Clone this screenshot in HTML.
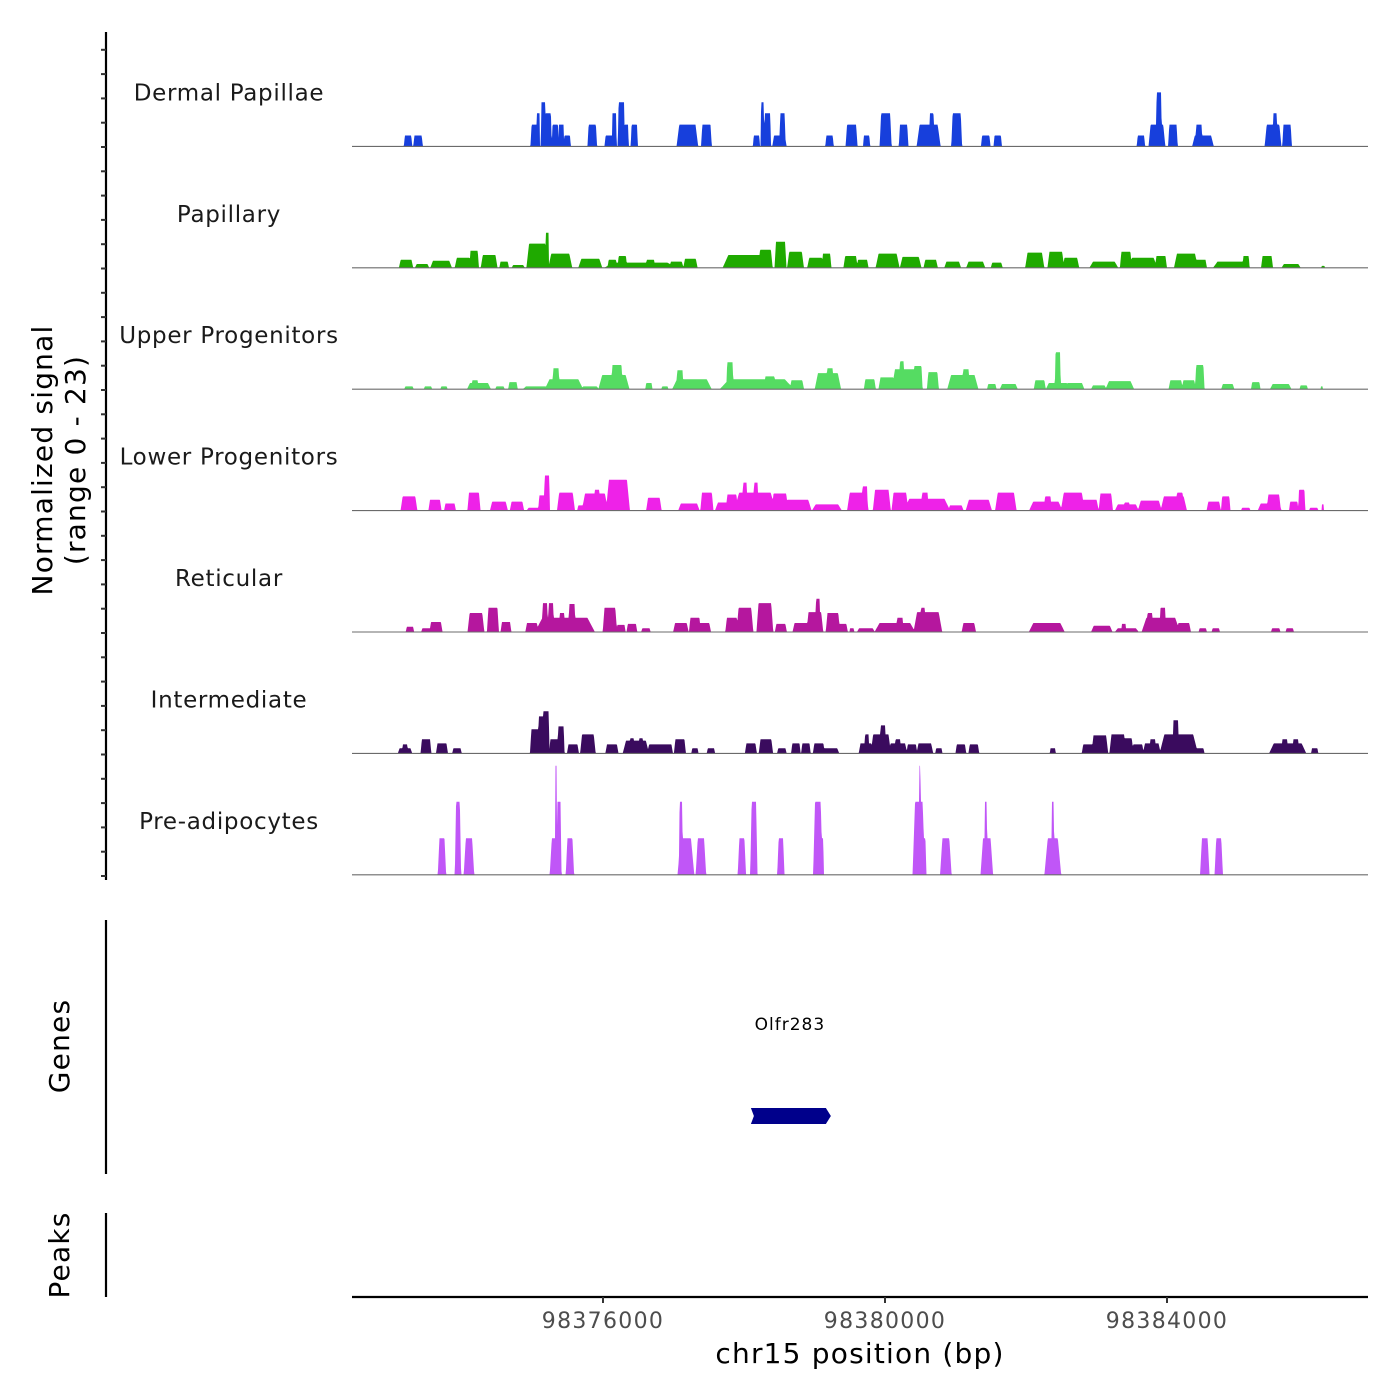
<!DOCTYPE html>
<html><head><meta charset="utf-8"><style>
html,body{margin:0;padding:0;background:#fff}
svg{display:block;font-family:"DejaVu Sans","Liberation Sans",sans-serif}
</style></head><body>
<svg id="chart" width="1400" height="1400" viewBox="0 0 1400 1400" xmlns="http://www.w3.org/2000/svg">
<g id="tracks"></g>
<g id="yaxis"></g>
<text transform="translate(52,460) rotate(-90)" text-anchor="middle" font-size="28" letter-spacing="1.2" fill="#000">Normalized signal</text>
<text transform="translate(85,460) rotate(-90)" text-anchor="middle" font-size="28" letter-spacing="1.2" fill="#000">(range 0 - 23)</text>
<g>
<line x1="106" y1="920" x2="106" y2="1174" stroke="#000" stroke-width="2.2"/>
<text transform="translate(69,1046) rotate(-90)" text-anchor="middle" font-size="28" letter-spacing="1.2" fill="#000">Genes</text>
<g id="genes"></g>
</g>
<g>
<line x1="106" y1="1213" x2="106" y2="1297" stroke="#000" stroke-width="2.2"/>
<text transform="translate(69,1255) rotate(-90)" text-anchor="middle" font-size="28" letter-spacing="1.2" fill="#000">Peaks</text>
</g>
<g id="xaxis"></g>
<text x="860" y="1363" text-anchor="middle" font-size="28" letter-spacing="1.2" fill="#000">chr15 position (bp)</text>
</svg>
<script>
const regionStart = 98372440;
const regionEnd = 98386851;
const xTicks = [98376000, 98380000, 98384000];
const trackNames = ["Dermal Papillae","Papillary","Upper Progenitors","Lower Progenitors","Reticular","Intermediate","Pre-adipocytes"];
const trackColors = ["#173fdc","#1faa00","#55dc62","#ee22e8","#b5179e","#3a0b5e","#c056f7"];
const yMax = 23;
const dpPos = [795,937,2599,2641,2712,2783,2883,2968,3053,3408,3649,3720,3820,3891,4004,4757,5027,5737,5822,5893,6063,6106,6773,7086,7299,7569,7824,8179,8222,8577,8989,9159,11190,11417,11445,11644,12070,12013,13064,13092,13263];
const dpWid = [100,114,114,43,57,85,85,71,85,114,114,57,85,57,85,256,128,85,43,85,170,71,100,142,85,142,114,284,57,128,114,100,100,199,71,114,256,85,199,57,114];
const dpVal = [2.3,2.3,4.6,7,9.3,7,4.6,4.6,2.3,4.6,2.3,7,9.3,4.6,4.6,4.6,4.6,2.3,9.3,7,2.3,7,2.3,4.6,2.3,7,4.6,4.6,7,7,2.3,2.3,2.3,4.6,11.4,4.6,2.3,4.6,4.6,7,4.6];
const paPos = [767,994,1264,1576,1732,1945,2158,2357,2627,2769,2954,3380,3692,3834,4090,4232,4601,4800,5581,5865,6078,6291,6575,6731,7072,7242,7597,7924,8208,8520,8847,9145,9684,9983,10196,10664,10977,11218,11474,11829,12042,12468,12681,12979,13320,13774];
const paWid = [170,170,256,199,114,199,114,156,256,43,284,284,114,114,852,114,170,170,540,170,142,199,199,114,170,142,284,256,170,199,227,142,227,199,199,341,142,341,142,284,142,426,85,142,227,43];
const paVal = [1.7,0.8,1.5,2.1,3.6,2.7,1.3,0.6,5.1,7.4,3.0,1.9,1.7,2.5,1.1,1.7,1.3,1.9,2.7,3.8,5.5,3.4,2.1,3.0,2.5,1.7,3.0,2.3,1.7,1.3,1.3,1.1,3.2,3.4,2.1,1.3,3.4,2.1,2.5,3.0,1.7,1.3,2.5,2.5,0.8,0.4];
const upPos = [808,1078,1305,1801,1744,2099,2283,2609,3006,2893,3375,3715,3758,4211,4438,4821,4651,5743,5360,5927,6310,6750,6778,7345,7586,7842,7799,8026,8239,8664,8707,9075,9316,9756,10011,10011,10252,10592,10890,11684,11869,12025,12422,12819,13173,13499,13755];
const upWid = [113,99,85,284,85,113,113,312,454,85,213,369,142,85,85,468,85,879,85,142,170,312,85,142,199,312,57,113,142,369,85,113,213,142,284,71,227,184,340,170,170,113,156,113,255,99,28];
const upVal = [0.6,0.6,0.6,1.3,1.9,0.6,1.5,0.6,2.1,4.4,0.6,3.0,5.1,1.3,0.6,2.1,4.0,2.1,5.7,2.7,1.9,3.4,4.4,2.1,2.5,4.2,5.9,4.9,3.6,3.0,4.2,1.1,1.1,1.9,1.3,7.8,1.3,0.8,1.7,1.9,1.9,5.1,1.1,1.5,1.1,0.8,0.6];
const loPos = [808,1177,1390,1730,2084,2340,2595,2708,2765,3035,3261,3446,3474,3772,4282,4779,5034,5318,5388,5715,5573,5729,6069,6324,6736,7175,7274,7515,7771,8154,8125,8565,8891,9274,9841,9869,10224,10465,10692,10990,10990,11316,11656,11741,12223,12393,12677,13017,13074,13358,13471,13641,13769];
const loWid = [199,156,142,156,213,170,199,113,71,213,113,312,71,284,184,255,156,284,142,496,57,57,199,326,355,255,71,213,199,553,85,184,312,255,397,85,284,213,170,284,71,284,312,85,170,113,113,284,170,113,85,113,28];
const loVal = [3.0,2.3,1.5,3.8,1.9,1.9,0.6,3.2,7.4,3.8,1.1,3.6,4.4,6.5,2.7,1.5,3.8,1.7,3.4,3.8,5.9,5.9,3.6,2.3,1.3,3.8,5.1,4.4,3.8,2.5,3.8,1.1,2.3,3.8,1.9,3.0,3.8,2.3,3.6,1.3,1.7,2.1,3.0,3.8,1.9,3.0,0.6,1.5,3.4,1.9,4.4,0.6,1.3];
const rePos = [822,1049,1191,1758,1999,2184,2552,3020,2737,2822,2978,3120,3261,3658,3814,3970,4169,4665,4864,4991,5388,5573,5856,6083,6367,6565,6608,6821,6948,7090,7289,7700,7771,8168,8097,8749,9855,10635,10990,10947,11472,11316,11500,11798,12067,12252,13102,13301];
const reWid = [99,113,156,199,142,128,156,709,71,71,71,85,85,170,113,128,113,184,142,170,156,199,199,142,199,199,57,170,142,57,213,482,85,340,57,170,425,255,284,57,454,71,71,170,99,99,113,99];
const reVal = [1.1,0.8,2.1,4.0,5.1,2.1,1.9,3.0,6.1,6.1,4.0,5.9,2.5,5.1,1.5,1.7,0.8,1.9,3.0,1.9,3.0,5.1,6.1,1.7,1.9,4.2,7.0,4.0,1.7,0.8,0.8,1.9,3.0,4.2,5.1,1.9,1.9,1.3,0.8,1.7,3.0,4.0,5.1,1.9,0.8,0.8,0.8,0.8];
const inPos = [752,752,1049,1276,1489,2609,2680,2751,2864,2964,3134,3346,3687,4027,3970,4098,4311,4467,4651,4864,5091,5658,5871,6097,6296,6438,6622,6792,7289,7303,7501,7530,7742,7742,7941,8125,8324,8636,8820,9940,10436,10607,10862,10990,11145,11344,11358,11727,11684,12025,13272,13230,13386,13655];
const inWid = [170,71,128,142,113,142,71,85,113,85,142,184,156,312,57,57,213,142,142,85,99,142,170,113,113,113,142,199,170,57,241,71,227,71,128,199,85,128,128,71,142,199,199,156,142,213,71,454,71,113,440,71,71,85];
const inVal = [1.1,1.9,3.0,2.1,1.1,5.1,7.8,8.9,3.0,5.7,1.9,4.0,1.9,2.7,3.2,3.2,1.9,1.9,3.0,1.1,1.1,2.1,3.0,1.1,2.1,2.1,2.1,1.1,2.1,4.0,4.0,5.9,2.1,3.0,1.9,2.1,1.1,1.9,1.9,1.1,1.9,3.8,4.0,3.2,1.9,2.1,3.0,4.0,7.0,1.1,2.1,3.0,3.0,1.1];
const prPos = [1276,1503,1659,2879,2935,2893,3091,4736,4665,4949,5530,5700,6083,6608,6665,8040,8054,8111,8423,9004,8990,9940,9940,12096,12294];
const prWid = [113,85,142,142,71,28,113,227,57,142,113,99,99,128,57,170,28,71,156,170,43,227,43,128,113];
const prVal = [7.7,15.4,7.7,7.7,15.4,23,7.7,7.7,15.4,7.7,7.7,15.4,7.7,15.4,7.7,15.4,23,7.7,7.7,7.7,15.4,7.7,15.4,7.7,7.7];
const geneName = "Olfr283";
const geneStart = 98378098;
const geneEnd = 98379204;

const trackPos = [dpPos,paPos,upPos,loPos,rePos,inPos,prPos];
const trackWid = [dpWid,paWid,upWid,loWid,reWid,inWid,prWid];
const trackVal = [dpVal,paVal,upVal,loVal,reVal,inVal,prVal];

const NS = "http://www.w3.org/2000/svg";
const X0 = 352, X1 = 1368;
function xScale(bp){ return X0 + (bp - regionStart) / (regionEnd - regionStart) * (X1 - X0); }
const trackTop = 32, trackH = 121.4;
function baseY(i){ return trackTop + (i+1)*trackH - 7; }
function yScale(i, v){ return baseY(i) - v / yMax * 109; }
function el(tag, attrs, parent){ const e = document.createElementNS(NS, tag); for (const k in attrs) e.setAttribute(k, attrs[k]); parent.appendChild(e); return e; }

const tracksG = document.getElementById('tracks');
for (let i = 0; i < 7; i++) {
  const pos = trackPos[i], wid = trackWid[i], val = trackVal[i];
  const b = baseY(i);
  const widen = i === 6 ? 1.05 : 1.2;
  let d = "M" + X0 + "," + b;
  for (let x = X0; x <= X1; x += 0.5) {
    const bpOff = (x - X0) / (X1 - X0) * (regionEnd - regionStart);
    let v = 0;
    for (let k = 0; k < pos.length; k++) {
      const half = wid[k] * widen / 2, core = half * (i === 6 ? 0.6 : 0.75), dd = Math.abs(bpOff - pos[k]);
      let pv = 0;
      if (dd <= core) pv = val[k];
      else if (dd < half) pv = val[k] * (half - dd) / (half - core);
      if (pv > v) v = pv;
    }
    d += "L" + x.toFixed(1) + "," + yScale(i, v).toFixed(1);
  }
  d += "L" + X1 + "," + b + "Z";
  const area = el('path', {d: d, fill: trackColors[i]}, tracksG);
  
  
  const bl = el('line', {x1: X0, x2: X1, y1: b, y2: b, stroke: '#6b6b6b', 'stroke-width': 1.1}, tracksG);
  
  
  const lab = el('text', {x: 229, y: b - 46, 'text-anchor': 'middle', 'font-size': 23, 'letter-spacing': 0.7, fill: '#1a1a1a'}, tracksG);
  lab.textContent = trackNames[i];
  
  
}

const ya = document.getElementById('yaxis');
el('line', {x1: 106, x2: 106, y1: 32, y2: 880, stroke: '#000', 'stroke-width': 2.2}, ya);
for (let k = 0; k <= 34; k++) {
  const y = 876 - k * 24.3;
  const t = el('line', {x1: 101, x2: 106, y1: y, y2: y, stroke: '#333', 'stroke-width': 2}, ya);
  
  
}

const gg = document.getElementById('genes');
const gx0 = xScale(geneStart), gx1 = xScale(geneEnd);
const gbody = el('path', {d: `M${gx0},1108 L${gx1-3},1108 L${gx1+2},1116 L${gx1-3},1124 L${gx0},1124 L${gx0+3},1116 Z`, fill: '#00008b'}, gg);


const gl = el('text', {x: (gx0+gx1)/2, y: 1030, 'text-anchor': 'middle', 'font-size': 17, 'letter-spacing': 1, fill: '#000'}, gg);
gl.textContent = geneName;



const xa = document.getElementById('xaxis');
el('line', {x1: X0, x2: X1, y1: 1297, y2: 1297, stroke: '#000', 'stroke-width': 2.2}, xa);
for (const t of xTicks) {
  const x = xScale(t);
  const tk = el('line', {x1: x, x2: x, y1: 1297, y2: 1303, stroke: '#333', 'stroke-width': 2}, xa);
  
  
  const tl = el('text', {x: x, y: 1328, 'text-anchor': 'middle', 'font-size': 22, 'letter-spacing': 1.3, fill: '#4d4d4d'}, xa);
  tl.textContent = String(t);
  
  
}
</script>
</body></html>
